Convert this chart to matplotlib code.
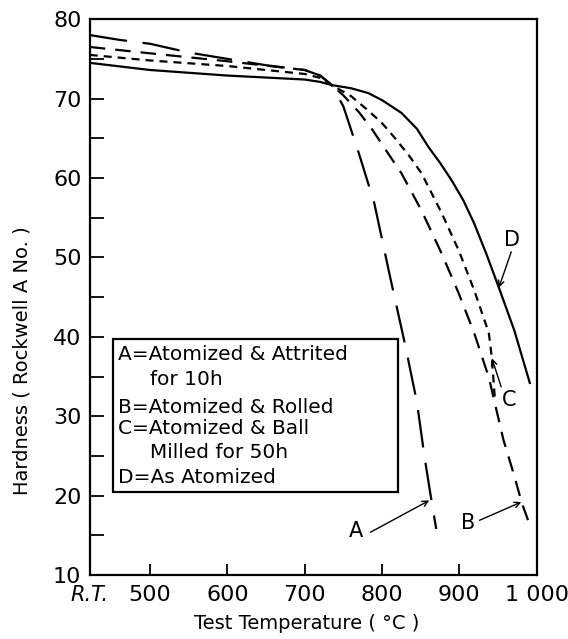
import matplotlib
matplotlib.use('Agg')
import matplotlib.pyplot as plt
from matplotlib.patches import Rectangle

# hardness vs test temperature
temp_A = [422, 460, 500, 550, 600, 650, 700, 720, 735, 750, 770, 790, 810, 830, 845, 855, 862, 870]
hard_A = [78.0, 77.4, 76.9, 75.8, 75.0, 74.2, 73.6, 72.9, 71.7, 69.0, 63.1, 56.8, 47.7, 38.9, 31.8, 24.8, 20.5, 15.8]

temp_B = [422, 500, 600, 700, 720, 735, 750, 770, 788, 805, 825, 851, 877, 899, 919, 938, 957, 970, 981, 991]
hard_B = [76.5, 75.7, 74.7, 73.6, 72.9, 71.7, 70.4, 68.3, 66.0, 63.5, 60.6, 55.9, 50.5, 45.5, 40.5, 34.9, 27.0, 22.8, 19.0, 16.3]

temp_C = [422, 500, 600, 700, 720, 735, 760, 782, 800, 816, 835, 851, 877, 899, 919, 938, 942, 946]
hard_C = [75.5, 74.8, 74.1, 73.1, 72.6, 71.7, 70.3, 68.5, 66.9, 65.1, 62.8, 60.6, 55.6, 50.9, 45.9, 40.5, 37.3, 32.0]

temp_D = [422, 500, 600, 700, 720, 735, 760, 782, 800, 825, 845, 860, 875, 890, 905, 919, 935, 951, 971, 991]
hard_D = [74.5, 73.6, 72.9, 72.4, 72.1, 71.7, 71.3, 70.7, 69.8, 68.2, 66.2, 63.9, 61.9, 59.7, 57.2, 54.3, 50.4, 46.2, 40.8, 34.2]

xticks = [500, 600, 700, 800, 900, 1000]
xticklabels = ['500', '600', '700', '800', '900', '1 000']
yticks = [10, 20, 30, 40, 50, 60, 70, 80]

legend_lines = ['A=Atomized & Attrited', '     for 10h', 'B=Atomized & Rolled',
                'C=Atomized & Ball', '     Milled for 50h', 'D=As Atomized']

fig = plt.figure(figsize=(5.68, 6.39), dpi=100)
ax = fig.add_axes([0.158, 0.100, 0.787, 0.870])

lw = 1.6
ax.plot(temp_A, hard_A, color='black', lw=lw, linestyle=(0, (17, 7)))
ax.plot(temp_B, hard_B, color='black', lw=lw, linestyle=(0, (7, 4.5)))
ax.plot(temp_C, hard_C, color='black', lw=lw, linestyle=(0, (3.6, 2.7)))
ax.plot(temp_D, hard_D, color='black', lw=lw)

ax.set_xlim(422, 1000)
ax.set_ylim(10, 80)
ax.set_xticks(xticks)
ax.set_xticklabels(xticklabels)
ax.set_yticks(yticks)
ax.set_yticks(range(15, 80, 10), minor=True)
ax.tick_params(axis='x', direction='in', length=8, width=1.3, labelsize=16, pad=7)
ax.tick_params(axis='y', which='both', direction='in', length=10, width=1.3, labelsize=16, pad=6)
for s in ax.spines.values():
    s.set_linewidth(1.6)

# R.T. at the left end of the axis
ax.text(0.0, -0.035, 'R.T.', transform=ax.transAxes, ha='center', va='center',
        fontsize=15, style='italic')

fig.text(0.039, 0.435, 'Hardness ( Rockwell A No. )', rotation=90,
         ha='center', va='center', fontsize=14)
fig.text(0.54, 0.025, 'Test Temperature ( °C )', ha='center', va='center', fontsize=14)

# key box
ax.add_patch(Rectangle((0.051, 0.149), 0.638, 0.275, transform=ax.transAxes,
                       fill=False, edgecolor='black', lw=1.6))
ys = [0.396, 0.351, 0.302, 0.263, 0.221, 0.176]
for txt, yy in zip(legend_lines, ys):
    ax.text(0.063, yy, txt, transform=ax.transAxes, ha='left', va='center', fontsize=14.5)

# curve labels with arrows
arrow = dict(arrowstyle='->', color='black', lw=1.0, shrinkA=0, shrinkB=0)
ax.annotate('', xy=(861, 19.4), xytext=(785, 15.4), arrowprops=arrow)
ax.text(766, 15.6, 'A', ha='center', va='center', fontsize=15)
ax.annotate('', xy=(980, 19.2), xytext=(926, 16.9), arrowprops=arrow)
ax.text(911, 16.5, 'B', ha='center', va='center', fontsize=15)
ax.annotate('', xy=(942, 37.3), xytext=(954, 33.7), arrowprops=arrow)
ax.text(964, 32.0, 'C', ha='center', va='center', fontsize=15)
ax.annotate('', xy=(951, 46.2), xytext=(967, 50.7), arrowprops=arrow)
ax.text(968, 52.2, 'D', ha='center', va='center', fontsize=15)

fig.savefig('out.png', dpi=100)
